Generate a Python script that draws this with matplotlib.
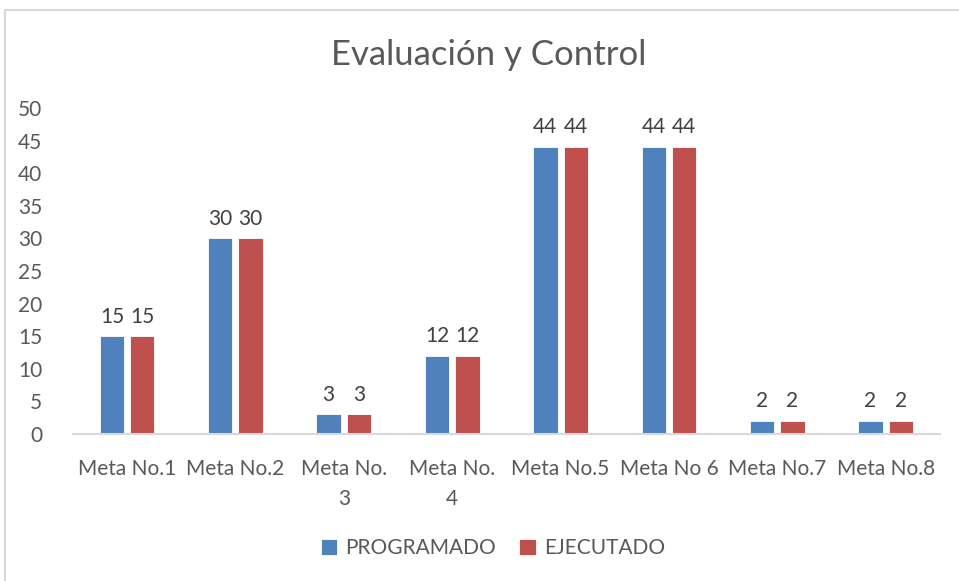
import matplotlib.pyplot as plt
import numpy as np
from matplotlib.patches import Rectangle

categories = ["Meta No.1", "Meta No.2", "Meta No.\n3", "Meta No.\n4",
              "Meta No.5", "Meta No 6", "Meta No.7", "Meta No.8"]
programado = [15, 30, 3, 12, 44, 44, 2, 2]
ejecutado = [15, 30, 3, 12, 44, 44, 2, 2]

plt.rcParams['font.family'] = ['Lato', 'DejaVu Sans']
text_color = '#595959'
blue = '#4F81BD'
red = '#C0504D'
fs = 15

fig = plt.figure(figsize=(9.59, 5.81), dpi=100)
ax = fig.add_axes([0.076, 0.253, 0.904, 0.561])

x = np.arange(len(categories))
w = 0.225
off = 0.14
b1 = ax.bar(x - off, programado, w, color=blue, edgecolor='white', linewidth=0.6, label='PROGRAMADO')
b2 = ax.bar(x + off, ejecutado, w, color=red, edgecolor='white', linewidth=0.6, label='EJECUTADO')

for bars in (b1, b2):
    ax.bar_label(bars, padding=7, fontsize=fs, color='#404040')

ax.set_xlim(-0.5, len(categories) - 0.5)
ax.set_ylim(0, 50)
ax.set_yticks(np.arange(0, 51, 5))
ax.set_xticks(x)
ax.set_xticklabels(categories, fontsize=fs, color=text_color, linespacing=1.65)
ax.tick_params(axis='y', labelsize=fs, labelcolor=text_color, length=0, pad=22)
ax.tick_params(axis='x', length=0, pad=18)
for s in ['top', 'right', 'left']:
    ax.spines[s].set_visible(False)
ax.spines['bottom'].set_color('#D9D9D9')
ax.spines['bottom'].set_linewidth(1.5)

fig.text(0.510, 0.905, 'Evaluación y Control', ha='center', va='center',
         fontsize=25, color=text_color)

fig.legend(handles=[b1, b2], loc='center', bbox_to_anchor=(0.514, 0.057), ncol=2,
           frameon=False, fontsize=fs, labelcolor=text_color, handlelength=0.8,
           handleheight=0.8, columnspacing=1.1, handletextpad=0.4)

fig.patches.append(Rectangle((5 / 959, -0.05), 1.1, (581 - 10) / 581 + 0.05,
                             transform=fig.transFigure, fill=False,
                             edgecolor='#D9D9D9', linewidth=1.5))

fig.savefig('out.png', dpi=100)
